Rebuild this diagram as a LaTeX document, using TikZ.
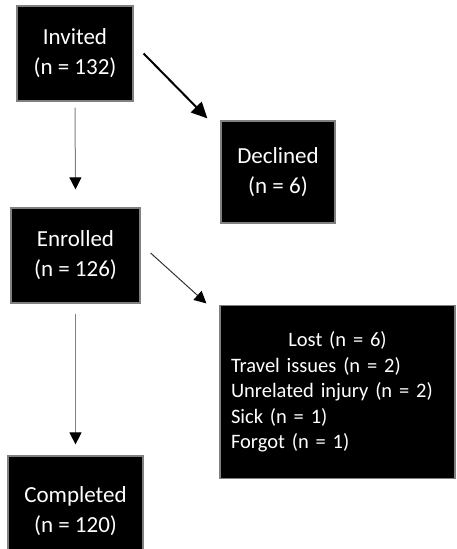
\documentclass[tikz,border=0pt]{standalone}
\usepackage{fontspec}
\setmainfont{Carlito}
\usetikzlibrary{arrows.meta}
\begin{document}
\begin{tikzpicture}[x=1pt, y=-1pt,
		box/.style={draw=gray, line width=1.2pt, fill=black, text=white, align=center,
			inner sep=0pt, font=\fontsize{23}{30}\selectfont},
		flow/.style={gray, line width=1pt, -{Triangle[width=12pt,length=12pt,color=black]}},
		bigflow/.style={black, line width=2pt, -{Triangle[width=15pt,length=16pt]}}]
		\clip (0,0) rectangle (456,549);
		% Boxes
		\node [box, minimum width=116, minimum height=95] (inv) at (75,53.5) {Invited\\(n = 132)};
		\node [box, minimum width=114, minimum height=102] (dec) at (278,172) {Declined\\(n = 6)};
		\node [box, minimum width=129, minimum height=95] (enr) at (75.5,255.5) {Enrolled\\(n = 126)};
		\node [box, minimum width=235, minimum height=173, text width=213, align=left,
			font=\fontsize{20.5}{25.6}\selectfont] (lost) at (337.5,392)
			{\makebox[213pt]{Lost (n = 6)}\\Travel issues (n = 2)\\Unrelated injury (n = 2)\\Sick (n = 1)\\Forgot (n = 1)};
		\node [box, minimum width=135, minimum height=110] (comp) at (75.5,511) {Completed\\(n = 120)};
		% Arrow ends
		\coordinate (inv-out) at ([shift={(10,0)}]inv.east);
		\coordinate (dec-in) at ([shift={(-13,-2)}]dec.north west);
		\coordinate (inv-down) at ([shift={(0,6)}]inv.south);
		\coordinate (enr-in) at ([shift={(0,-18)}]enr.north);
		\coordinate (enr-out) at ([shift={(10,-2.5)}]enr.east);
		\coordinate (lost-in) at ([shift={(-13,-1.5)}]lost.north west);
		\coordinate (enr-down) at ([shift={(0,10)}]enr.south);
		\coordinate (comp-in) at ([shift={(0,-11)}]comp.north);
		% Arrows
		\draw [bigflow] (inv-out) -- (dec-in);
		\draw [flow] (inv-down) -- (enr-in);
		\draw [flow, black!80] (enr-out) -- (lost-in);
		\draw [flow] (enr-down) -- (comp-in);
	\end{tikzpicture}
\end{document}
